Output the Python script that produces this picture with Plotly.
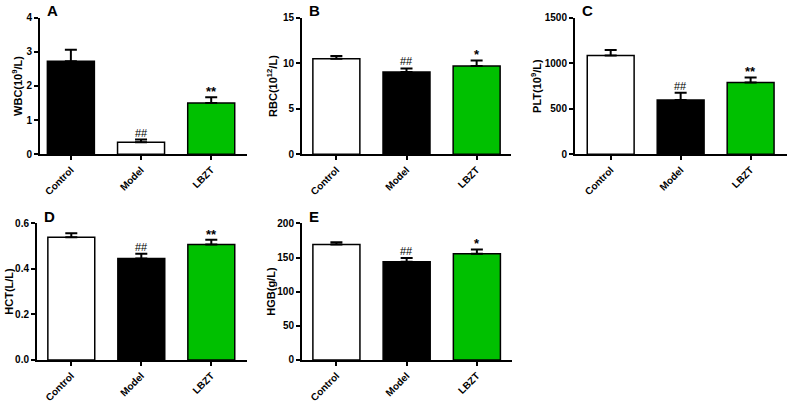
import plotly.graph_objects as go

W, H = 789, 403
categories = ["Control", "Model", "LBZT"]

wbc = [2.72, 0.35, 1.50]
wbc_err = [0.34, 0.08, 0.17]
rbc = [10.5, 9.03, 9.68]
rbc_err = [0.28, 0.40, 0.62]
plt_vals = [1085, 596, 789]
plt_err = [61, 79, 54]
hct = [0.539, 0.446, 0.507]
hct_err = [0.018, 0.021, 0.021]
hgb = [169, 143.8, 155.7]
hgb_err = [3.4, 5.7, 6.2]

sig_a = ["", "##", "**"]
sig_b = ["", "##", "*"]
sig_c = ["", "##", "**"]
sig_d = ["", "##", "**"]
sig_e = ["", "##", "*"]

GREEN = "#00C000"
colors_a = ["black", "white", GREEN]
colors_other = ["white", "black", GREEN]

FONT = "Arial, 'Liberation Sans', sans-serif"

panels = [
    ("A", wbc, wbc_err, sig_a, colors_a, "WBC(10<sup>9</sup>/L)", [0, 4], 1, "", (40, 247), (-0.44, 2.51), (13, 153), 17),
    ("B", rbc, rbc_err, sig_b, colors_other, "RBC(10<sup>12</sup>/L)", [0, 15], 5, "", (302, 511), (-0.49, 2.49), (13, 153), 272),
    ("C", plt_vals, plt_err, sig_c, colors_other, "PLT(10<sup>9</sup>/L)", [0, 1500], 500, "", (575, 787), (-0.51, 2.52), (13, 153), 536),
    ("D", hct, hct_err, sig_d, colors_other, "HCT(L/L)", [0, 0.6], 0.2, ".1f", (37, 247), (-0.49, 2.51), (224, 364), 9),
    ("E", hgb, hgb_err, sig_e, colors_other, "HGB(g/L)", [0, 200], 50, "", (302, 512), (-0.49, 2.50), (224, 364), 271),
]

fig = go.Figure()
annotations = []

for i, (letter, vals, errs, sig, cols, ytitle, yr, dt, tf, xpx, xr, ypx, ytx) in enumerate(panels):
    n = "" if i == 0 else str(i + 1)
    fig.add_trace(go.Bar(
        x=categories, y=vals,
        marker=dict(color=cols, line=dict(color="black", width=1.5)),
        width=0.67,
        error_y=dict(type="data", array=errs, symmetric=False, arrayminus=[0, 0, 0],
                     color="black", thickness=2, width=6),
        xaxis="x" + n, yaxis="y" + n, showlegend=False,
    ))
    xd = [xpx[0] / W, xpx[1] / W]
    yd = [1 - ypx[1] / H, 1 - ypx[0] / H]
    fig.update_layout(**{
        "xaxis" + n: dict(domain=xd, range=list(xr), anchor="y" + n, showline=True, linecolor="black",
                          linewidth=2, ticks="outside", tickcolor="black", tickwidth=2, ticklen=4,
                          showgrid=False, zeroline=False, tickangle=-45,
                          tickfont=dict(family=FONT, size=10, color="black", weight="bold")),
        "yaxis" + n: dict(domain=yd, range=yr, dtick=dt, tickformat=tf, anchor="x" + n, showline=True,
                          linecolor="black", linewidth=2, ticks="outside", tickcolor="black", tickwidth=2,
                          ticklen=4, showgrid=False, zeroline=False,
                          tickfont=dict(family=FONT, size=10, color="black", weight="bold")),
    })
    for c, v, e, s in zip(categories, vals, errs, sig):
        if s:
            star = s.startswith("*")
            annotations.append(dict(
                x=c, y=v + e, xref="x" + n, yref="y" + n, text=s, showarrow=False,
                xanchor="center", yanchor="bottom", yshift=-4 if star else -1,
                font=dict(family=FONT, size=13 if star else 11, color="black",
                          weight="bold" if star else "normal"),
            ))
    annotations.append(dict(
        x=ytx / W, y=1 - (ypx[0] + ypx[1]) / 2 / H, xref="paper", yref="paper", text=ytitle,
        textangle=-90, showarrow=False, xanchor="center", yanchor="middle",
        font=dict(family=FONT, size=11, color="black", weight="bold"),
    ))
    annotations.append(dict(
        x=(xpx[0] + 5) / W, y=1 - (ypx[0] - 11) / H, xref="paper", yref="paper", text=letter,
        showarrow=False, xanchor="left", yanchor="top", yshift=7,
        font=dict(family=FONT, size=15, color="black", weight="bold"),
    ))

fig.update_layout(
    width=W, height=H, margin=dict(l=0, r=0, t=0, b=0),
    paper_bgcolor="white", plot_bgcolor="white",
    annotations=annotations,
)

fig.write_html("out.html")
